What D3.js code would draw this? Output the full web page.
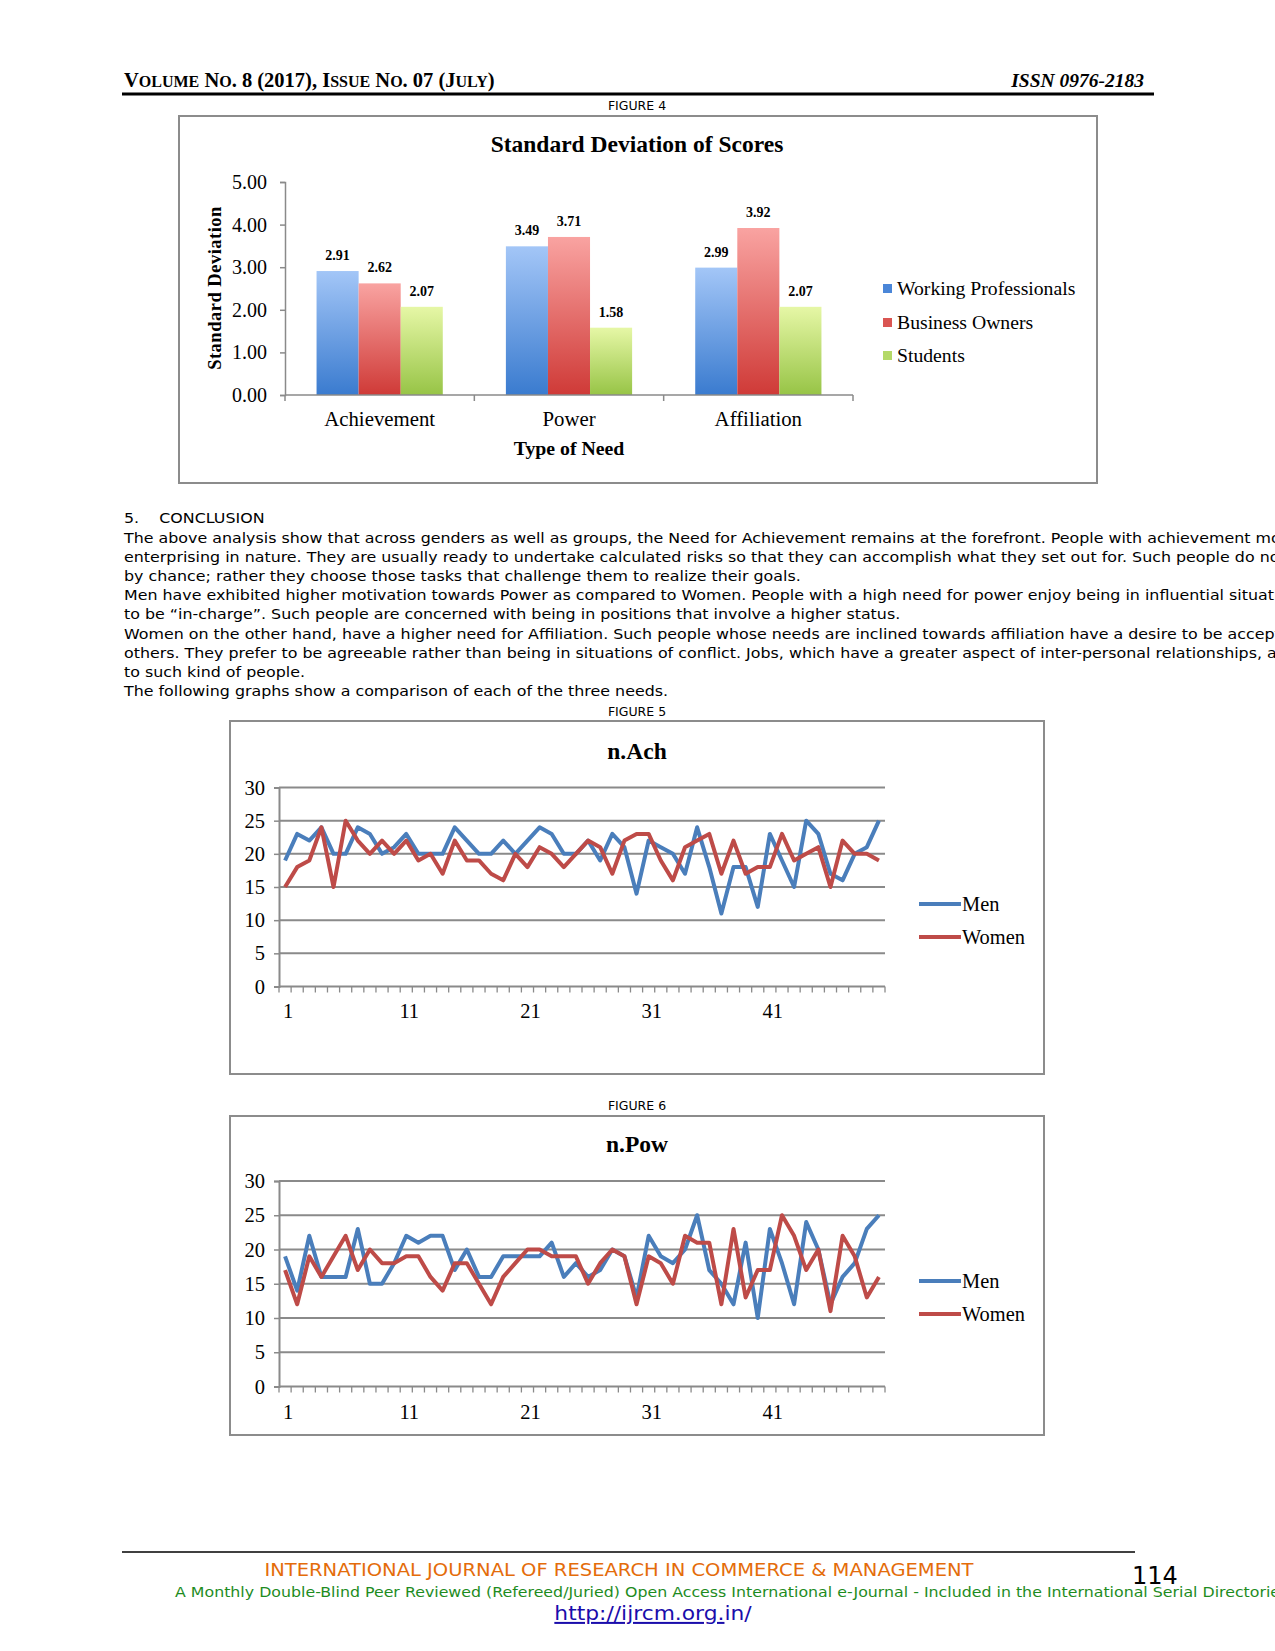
<!DOCTYPE html>
<html>
<head>
<meta charset="utf-8">
<script src="https://cdn.jsdelivr.net/npm/d3@7"></script>
<style>
html,body{margin:0;padding:0;background:#fff;overflow:hidden;}
svg{display:block;}
</style>
</head>
<body>
<svg id="page" width="1275" height="1651"></svg>
<script>
// ---------- DATA ----------
const barCategories = ["Achievement", "Power", "Affiliation"];
const barSeries = ["Working Professionals", "Business Owners", "Students"];
const workingProfessionals = [2.91, 3.49, 2.99];
const businessOwners = [2.62, 3.71, 3.92];
const students = [2.07, 1.58, 2.07];
const barTicks = [0, 1, 2, 3, 4, 5];

const respondents = [1,2,3,4,5,6,7,8,9,10,11,12,13,14,15,16,17,18,19,20,21,22,23,24,25,
  26,27,28,29,30,31,32,33,34,35,36,37,38,39,40,41,42,43,44,45,46,47,48,49,50];
const xTickLabels = [1, 11, 21, 31, 41];
const lineTicks = [0, 5, 10, 15, 20, 25, 30];
const lineSeries = ["Men", "Women"];

const achMen = [19,23,22,24,20,20,24,23,20,21, 23,20,20,20,24,22,20,20,22,20,
  22,24,23,20,20,22,19,23,21,14, 22,21,20,17,24,18,11,18,18,12, 23,19,15,25,23,17,16,20,21,25];
const achWomen = [15,18,19,24,15,25,22,20,22,20, 22,19,20,17,22,19,19,17,16,20,
  18,21,20,18,20,22,21,17,22,23, 23,19,16,21,22,23,17,22,17,18, 18,23,19,20,21,15,22,20,20,19];
const powMen = [19,14,22,16,16,16,23,15,15,18, 22,21,22,22,17,20,16,16,19,19,
  19,19,21,16,18,16,17,20,19,13, 22,19,18,20,25,17,15,12,21,10, 23,18,12,24,20,12,16,18,23,25];
const powWomen = [17,12,19,16,19,22,17,20,18,18, 19,19,16,14,18,18,15,12,16,18,
  20,20,19,19,19,15,18,20,19,12, 19,18,15,22,21,21,12,23,13,17, 17,25,22,17,20,11,22,19,13,16];

const paragraphLines = [
  "The above analysis show that across genders as well as groups, the Need for Achievement remains at the forefront. People with achievement motivation are",
  "enterprising in nature. They are usually ready to undertake calculated risks so that they can accomplish what they set out for. Such people do not leave things",
  "by chance; rather they choose those tasks that challenge them to realize their goals.",
  "Men have exhibited higher motivation towards Power as compared to Women. People with a high need for power enjoy being in influential situations and like",
  "to be \u201cin-charge\u201d. Such people are concerned with being in positions that involve a higher status.",
  "Women on the other hand, have a higher need for Affiliation. Such people whose needs are inclined towards affiliation have a desire to be accepted by",
  "others. They prefer to be agreeable rather than being in situations of conflict. Jobs, which have a greater aspect of inter-personal relationships, are suited",
  "to such kind of people.",
  "The following graphs show a comparison of each of the three needs."
];

// ---------- STYLE ----------
const SERIF = "'Liberation Serif', 'Times New Roman', serif";
const SANS = "'DejaVu Sans', sans-serif";
const AXIS_GRAY = "#8a8a8a";
const BLUE = "#4A7EBB", RED = "#BE4B48";
const CX = 637;

const svg = d3.select("#page");

function sansText(x, y, sx, size, txt, anchor, fill) {
  return svg.append("text").attr("transform", `translate(${x},${y}) scale(${sx},1)`)
    .attr("text-anchor", anchor || "start")
    .style("font-family", SANS).style("font-size", size + "px").attr("fill", fill || "#000")
    .text(txt);
}

// ---------- HEADER ----------
const head = svg.append("text").attr("x", 124).attr("y", 87)
  .style("font-family", SERIF).style("font-weight", "bold");
[["V",1],["OLUME",0],[" N",1],["O",0],[". 8 (2017), I",1],["SSUE",0],[" N",1],["O",0],[". 07 (J",1],["ULY",0],[")",1]]
  .forEach(([t, big]) => head.append("tspan").style("font-size", big ? "20.5px" : "16px").text(t));
svg.append("text").attr("x", 1144).attr("y", 87).attr("text-anchor", "end")
  .style("font-family", SERIF).style("font-size", "19.5px").style("font-weight", "bold").style("font-style", "italic")
  .text("ISSN 0976-2183");
svg.append("line").attr("x1", 122).attr("x2", 1154).attr("y1", 94).attr("y2", 94)
  .attr("stroke", "#000").attr("stroke-width", 3);

function figLabel(txt, y) {
  svg.append("text").attr("x", CX).attr("y", y).attr("text-anchor", "middle")
    .style("font-family", SANS).style("font-size", "12.5px").text(txt);
}

// ---------- FIGURE 4 : BAR CHART ----------
figLabel("FIGURE 4", 110);
svg.append("rect").attr("x", 179).attr("y", 116).attr("width", 918).attr("height", 367)
  .attr("fill", "#fff").attr("stroke", "#8c8c8c").attr("stroke-width", 2);

const defs = svg.append("defs");
const gradColors = [["#A3C6F7", "#3A7BCF"], ["#F9A3A1", "#CF3A37"], ["#E6F7A6", "#97C446"]];
gradColors.forEach((c, i) => {
  const g = defs.append("linearGradient").attr("id", "grad" + i)
    .attr("x1", 0).attr("y1", 0).attr("x2", 0).attr("y2", 1);
  g.append("stop").attr("offset", "0%").attr("stop-color", c[0]);
  g.append("stop").attr("offset", "100%").attr("stop-color", c[1]);
});
const legendColors = ["#4A86D8", "#DA5552", "#B4D968"];

const bx0 = 285, bx1 = 853, byTop = 182, byBot = 395;
const xBand = d3.scaleBand().domain(barCategories).range([bx0, bx1]).paddingInner(1/3).paddingOuter(1/6);
const xSub = d3.scaleBand().domain(barSeries).range([0, xBand.bandwidth()]).padding(0);
const yBar = d3.scaleLinear().domain([0, 5]).range([byBot, byTop]);
const barValues = [workingProfessionals, businessOwners, students];

svg.append("text").attr("x", CX).attr("y", 152).attr("text-anchor", "middle")
  .style("font-family", SERIF).style("font-size", "23.5px").style("font-weight", "bold")
  .text("Standard Deviation of Scores");

const yAxisBar = svg.append("g").attr("transform", `translate(${bx0},0)`)
  .call(d3.axisLeft(yBar).tickValues(barTicks).tickFormat(d3.format(".2f")).tickSize(5).tickPadding(13));
yAxisBar.select(".domain").attr("stroke", AXIS_GRAY).attr("stroke-width", 1.5);
yAxisBar.selectAll(".tick line").attr("stroke", AXIS_GRAY).attr("stroke-width", 1.5);
yAxisBar.selectAll(".tick text").style("font-family", SERIF).style("font-size", "20px").attr("fill", "#000");

const barG = svg.append("g");
barCategories.forEach((cat, ci) => {
  barSeries.forEach((s, si) => {
    const v = barValues[si][ci];
    const x = xBand(cat) + xSub(s);
    barG.append("rect").attr("x", x).attr("y", yBar(v))
      .attr("width", xSub.bandwidth()).attr("height", yBar(0) - yBar(v))
      .attr("fill", `url(#grad${si})`);
    barG.append("text").attr("x", x + xSub.bandwidth() / 2).attr("y", yBar(v) - 11)
      .attr("text-anchor", "middle")
      .style("font-family", SERIF).style("font-size", "14px").style("font-weight", "bold")
      .text(d3.format(".2f")(v));
  });
});

svg.append("line").attr("x1", bx0).attr("x2", bx1).attr("y1", byBot).attr("y2", byBot)
  .attr("stroke", AXIS_GRAY).attr("stroke-width", 1.5);
const boundaries = barCategories.map(c => xBand(c) - xBand.step() * xBand.paddingInner() / 2).concat([bx1]);
boundaries.forEach(b => {
  svg.append("line").attr("x1", b).attr("x2", b).attr("y1", byBot).attr("y2", byBot + 6)
    .attr("stroke", AXIS_GRAY).attr("stroke-width", 1.5);
});
barCategories.forEach(cat => {
  svg.append("text").attr("x", xBand(cat) + xBand.bandwidth() / 2).attr("y", 426)
    .attr("text-anchor", "middle").style("font-family", SERIF).style("font-size", "20.8px").text(cat);
});
svg.append("text").attr("x", 569).attr("y", 455).attr("text-anchor", "middle")
  .style("font-family", SERIF).style("font-size", "19.8px").style("font-weight", "bold").text("Type of Need");
svg.append("text").attr("transform", "translate(221,288) rotate(-90)").attr("text-anchor", "middle")
  .style("font-family", SERIF).style("font-size", "18.5px").style("font-weight", "bold")
  .style("letter-spacing", "0.5px").text("Standard Deviation");

const legY = [288, 322, 355];
barSeries.forEach((s, i) => {
  svg.append("rect").attr("x", 883).attr("y", legY[i] - 4).attr("width", 9).attr("height", 9)
    .attr("fill", legendColors[i]);
  svg.append("text").attr("x", 897).attr("y", legY[i] + 7)
    .style("font-family", SERIF).style("font-size", "19.7px").text(s);
});

// ---------- TEXT ----------
const TSX = 1.134;
sansText(124, 523, TSX, 14, "5.    CONCLUSION").attr("xml:space", "preserve").style("white-space", "pre");
paragraphLines.forEach((ln, i) => {
  sansText(124, 543 + i * 19.1, TSX, 14, ln);
});

// ---------- LINE CHARTS ----------
function lineChart(opts) {
  const { box, labelY, title, titleY, yTop, yBot, menData, womenData, xLabelY, legendY } = opts;
  figLabel(labelY[0], labelY[1]);
  svg.append("rect").attr("x", box[0]).attr("y", box[1]).attr("width", box[2]).attr("height", box[3])
    .attr("fill", "#fff").attr("stroke", "#8c8c8c").attr("stroke-width", 2);
  svg.append("text").attr("x", CX).attr("y", titleY).attr("text-anchor", "middle")
    .style("font-family", SERIF).style("font-size", "23.5px").style("font-weight", "bold").text(title);

  const x = d3.scaleBand().domain(respondents).range([279, 885]);
  const y = d3.scaleLinear().domain([0, 30]).range([yBot, yTop]);
  const g = svg.append("g");

  g.selectAll(".grid").data(lineTicks.filter(t => t > 0)).enter().append("line")
    .attr("x1", 279).attr("x2", 885).attr("y1", d => y(d)).attr("y2", d => y(d))
    .attr("stroke", "#8a8a8a").attr("stroke-width", 2);

  const ya = g.append("g").attr("transform", "translate(279,0)")
    .call(d3.axisLeft(y).tickValues(lineTicks).tickSize(5).tickPadding(9));
  ya.select(".domain").attr("stroke", AXIS_GRAY).attr("stroke-width", 2);
  ya.selectAll(".tick line").attr("stroke", AXIS_GRAY).attr("stroke-width", 1.5);
  ya.selectAll(".tick text").style("font-family", SERIF).style("font-size", "20.5px").attr("fill", "#000");

  g.append("line").attr("x1", 279).attr("x2", 885).attr("y1", yBot).attr("y2", yBot)
    .attr("stroke", AXIS_GRAY).attr("stroke-width", 2);
  const bnd = respondents.map(r => x(r)).concat([885]);
  g.selectAll(".xt").data(bnd).enter().append("line")
    .attr("x1", d => d).attr("x2", d => d).attr("y1", yBot).attr("y2", yBot + 6)
    .attr("stroke", AXIS_GRAY).attr("stroke-width", 1.3);
  xTickLabels.forEach(t => {
    g.append("text").attr("x", x(t) + x.bandwidth() / 2 + 3).attr("y", xLabelY).attr("text-anchor", "middle")
      .style("font-family", SERIF).style("font-size", "20.5px").text(t);
  });

  const line = d3.line().x((d, i) => x(respondents[i]) + x.bandwidth() / 2).y(d => y(d));
  [[menData, BLUE], [womenData, RED]].forEach(([data, col]) => {
    g.append("path").datum(data).attr("d", line).attr("fill", "none")
      .attr("stroke", col).attr("stroke-width", 4).attr("stroke-linejoin", "round");
  });

  lineSeries.forEach((s, i) => {
    const ly = legendY[i];
    g.append("line").attr("x1", 919).attr("x2", 961).attr("y1", ly).attr("y2", ly)
      .attr("stroke", i === 0 ? BLUE : RED).attr("stroke-width", 4);
    g.append("text").attr("x", 962).attr("y", ly + 7)
      .style("font-family", SERIF).style("font-size", "20.4px").text(s);
  });
}

lineChart({ box: [230, 721, 814, 353], labelY: ["FIGURE 5", 716], title: "n.Ach", titleY: 759,
  yTop: 787.5, yBot: 986.5, menData: achMen, womenData: achWomen, xLabelY: 1018, legendY: [904, 937] });
lineChart({ box: [230, 1116, 814, 319], labelY: ["FIGURE 6", 1110], title: "n.Pow", titleY: 1152,
  yTop: 1181, yBot: 1386.5, menData: powMen, womenData: powWomen, xLabelY: 1419, legendY: [1281, 1314] });

// ---------- FOOTER ----------
svg.append("line").attr("x1", 122).attr("x2", 1135).attr("y1", 1552).attr("y2", 1552)
  .attr("stroke", "#000").attr("stroke-width", 1.5);
sansText(619, 1576, 1.085, 18, "INTERNATIONAL JOURNAL OF RESEARCH IN COMMERCE & MANAGEMENT", "middle", "#E46C0A");
svg.append("text").attr("x", 1132).attr("y", 1584)
  .style("font-family", SANS).style("font-size", "24px").text("114");
sansText(175, 1597, 1.13, 14,
  "A Monthly Double-Blind Peer Reviewed (Refereed/Juried) Open Access International e-Journal - Included in the International Serial Directories",
  "start", "#1E8C1E");
const url = svg.append("text").attr("transform", "translate(653,1620) scale(1.09,1)").attr("text-anchor", "middle")
  .style("font-family", SANS).style("font-size", "20px").attr("fill", "#1A0DAB");
url.append("tspan").style("text-decoration", "underline").text("http://ijrcm.org.");
url.append("tspan").text("in/");
</script>
</body>
</html>
